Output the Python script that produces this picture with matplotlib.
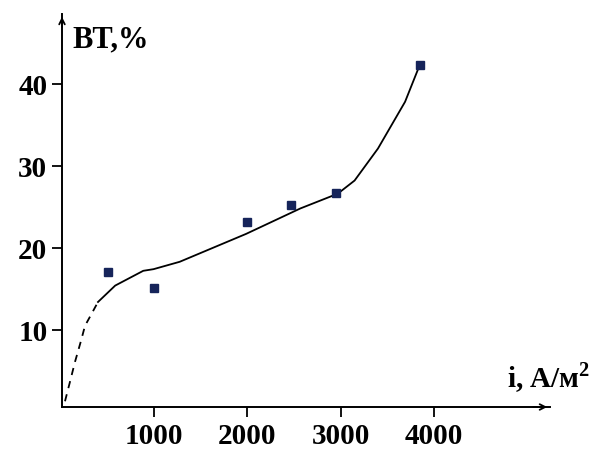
import matplotlib
matplotlib.use('Agg')
import matplotlib.pyplot as plt

# measured points: current density i (A/m^2) vs BT (%)
i_pts = [510, 1000, 2000, 2470, 2950, 3850]
bt_pts = [17.1, 15.1, 23.2, 25.2, 26.7, 42.3]

# hand-drawn trend curve, dashed (extrapolated) part then solid part
i_dash = [53, 107, 160, 225, 267, 320, 406]
bt_dash = [1.3, 3.7, 6.1, 8.7, 10.5, 11.6, 13.4]
i_line = [406, 590, 890, 1000, 1280, 1990, 2570, 2970, 3150, 3400, 3690, 3830]
bt_line = [13.4, 15.4, 17.2, 17.4, 18.3, 21.7, 24.8, 26.6, 28.2, 32.1, 37.8, 41.8]

xticks = [1000, 2000, 3000, 4000]
yticks = [10, 20, 30, 40]

plt.rcParams['font.family'] = ['Liberation Serif', 'DejaVu Serif']
plt.rcParams['mathtext.fontset'] = 'custom'
plt.rcParams['mathtext.rm'] = 'Liberation Serif'
plt.rcParams['mathtext.bf'] = 'Liberation Serif:bold'

fig = plt.figure(figsize=(6.02, 4.52), dpi=100)
ax = fig.add_axes([62 / 602, 44 / 452, 488 / 602, 393 / 452])

ax.plot(i_dash, bt_dash, color='black', lw=1.3, ls=(0, (4, 3.5)))
ax.plot(i_line, bt_line, color='black', lw=1.3)
ax.plot(i_pts, bt_pts, 's', color='#16245a', ms=5.5, mec='#16245a')

ax.set_xlim(21, 5240)
ax.set_ylim(0.6, 48.5)

for s in ('top', 'right'):
    ax.spines[s].set_visible(False)
for s in ('left', 'bottom'):
    ax.spines[s].set_linewidth(1.4)

ax.set_xticks(xticks)
ax.set_yticks(yticks)
ax.tick_params(axis='both', direction='out', length=7, width=1.3,
               labelsize=21)
for lab in ax.get_xticklabels() + ax.get_yticklabels():
    lab.set_fontweight('bold')

# arrow heads on the axes
ax.annotate('', xy=(1.0, 0), xytext=(0.96, 0), xycoords='axes fraction',
            arrowprops=dict(arrowstyle='->', color='black', lw=1.3))
ax.annotate('', xy=(0, 1.0), xytext=(0, 0.96), xycoords='axes fraction',
            arrowprops=dict(arrowstyle='->', color='black', lw=1.3))

fig.text(72 / 602, 1 - 47 / 452, 'BT,%', fontsize=22, fontweight='bold',
         va='baseline', ha='left')
fig.text(507 / 602, 1 - 387 / 452, 'i, A/м$^\\mathbf{2}$', fontsize=21,
         fontweight='bold', va='baseline', ha='left')

fig.savefig('out.png', dpi=100)
